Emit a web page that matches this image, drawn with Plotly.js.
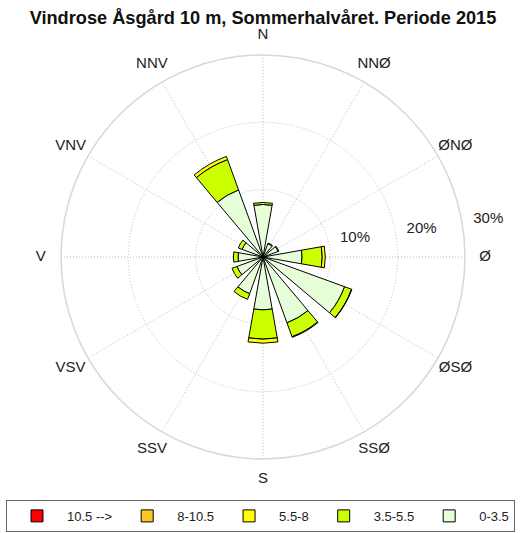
<!DOCTYPE html>
<html>
<head>
<meta charset="utf-8">
<script src="https://cdn.plot.ly/plotly-3.0.1.min.js"></script>
<style>html,body{margin:0;padding:0;background:#fff;}#chart{width:521px;height:533px;}</style>
</head>
<body>
<div id="chart"></div>
<script>
// Directions (compass labels) and their bearings in degrees
const directions = ['N','NNØ','ØNØ','Ø','ØSØ','SSØ','S','SSV','VSV','V','VNV','NNV'];
const bearings   = [0, 30, 60, 90, 120, 150, 180, 210, 240, 270, 300, 330];

// Frequency (%) per wind-speed class (m/s)
const class0_35   = [7.8, 2.1, 2.4, 5.8, 12.9, 10.4, 7.85, 5.8, 4.1, 3.7, 3.3, 10.6];
const class35_55  = [0.3, 0.1, 0.1, 3.0, 1.1, 2.2, 4.35, 0.9, 0.8, 0.7, 0.6, 4.8];
const class55_8   = [0, 0, 0, 0.45, 0.05, 0.1, 0.6, 0, 0, 0, 0, 0.5];
const class8_105  = [0, 0, 0, 0, 0, 0, 0, 0, 0, 0, 0, 0];
const class105    = [0, 0, 0, 0, 0, 0, 0, 0, 0, 0, 0, 0];

const classNames  = ['0-3.5', '3.5-5.5', '5.5-8', '8-10.5', '10.5 -->'];
const classColors = ['#E6FFD8', '#CCFF00', '#FFFF00', '#FFC820', '#FF0000'];
const classValues = [class0_35, class35_55, class55_8, class8_105, class105];

// Radial ticks
const radialTicks = [10, 20, 30];
const radialTickText = ['10%', '20%', '30%'];

const font = 'Liberation Sans, Arial, sans-serif';

const W = 521, H = 533;
const cx = 263, cy = 257, R = 202;      // main polar: centre and radius (px)
const rMax = 30;                        // outer circle value
const R2 = 240;                         // label overlay radius (px), same scale
const rMax2 = rMax * R2 / R;

const traces = classValues.map((vals, i) => ({
  type: 'barpolar',
  r: vals,
  theta: bearings,
  width: 20,
  name: classNames[i],
  marker: { color: classColors[i], line: { color: '#000', width: 1 } },
  hoverinfo: 'skip',
  subplot: 'polar'
}));

// radial tick labels (overlay subplot, same scale)
const labelBearing = 81.8;
const labelShift = 1.55;
traces.push({
  type: 'scatterpolar',
  subplot: 'polar2',
  mode: 'text',
  r: radialTicks.map(v => v + labelShift),
  theta: radialTicks.map(() => labelBearing),
  text: radialTickText,
  textposition: 'top right',
  textfont: { family: font, size: 15, color: '#222' },
  showlegend: false,
  cliponaxis: false,
  hoverinfo: 'skip'
});

// direction labels (overlay subplot, same scale)
const dirLabelR = 33.0;
traces.push({
  type: 'scatterpolar',
  subplot: 'polar2',
  mode: 'text',
  r: bearings.map(() => dirLabelR),
  theta: bearings,
  text: directions,
  textposition: 'middle center',
  textfont: { family: font, size: 15, color: '#222' },
  showlegend: false,
  cliponaxis: false,
  hoverinfo: 'skip'
});

const gridDash = '1px,2px';
const gridColor = '#bdbdbd';

const layout = {
  width: W, height: H,
  margin: { l: 0, r: 0, t: 0, b: 0 },
  paper_bgcolor: '#fff',
  font: { family: font, color: '#222' },
  title: {
    text: '<b>Vindrose Åsgård 10 m, Sommerhalvåret. Periode 2015</b>',
    x: 263 / W, xanchor: 'center',
    y: 1 - 18 / H, yanchor: 'middle',
    font: { family: font, size: 18.2, color: '#111' }
  },
  polar: {
    domain: { x: [(cx - R) / W, (cx + R) / W], y: [1 - (cy + R) / H, 1 - (cy - R) / H] },
    bgcolor: '#fff',
    barmode: 'stack',
    radialaxis: {
      range: [0, rMax],
      tickvals: [10, 20],
      showticklabels: false,
      ticks: '',
      showline: false,
      gridcolor: gridColor,
      griddash: gridDash,
      gridwidth: 1
    },
    angularaxis: {
      direction: 'clockwise',
      rotation: 90,
      tickmode: 'array',
      tickvals: bearings,
      showticklabels: false,
      ticks: '',
      showline: true,
      linecolor: '#d8d8d8',
      linewidth: 1.5,
      gridcolor: gridColor,
      griddash: gridDash,
      gridwidth: 1
    }
  },
  polar2: {
    domain: { x: [(cx - R2) / W, (cx + R2) / W], y: [1 - (cy + R2) / H, 1 - (cy - R2) / H] },
    bgcolor: 'rgba(0,0,0,0)',
    radialaxis: { range: [0, rMax2], visible: false, showgrid: false },
    angularaxis: { direction: 'clockwise', rotation: 90, visible: false, showgrid: false }
  },
  showlegend: true,
  legend: {
    orientation: 'h',
    traceorder: 'reversed',
    x: 0.5, xanchor: 'center',
    y: 0.002, yanchor: 'bottom',
    bordercolor: '#666',
    borderwidth: 1,
    bgcolor: '#fff',
    itemwidth: 50,
    font: { family: font, size: 13, color: '#222' }
  }
};

Plotly.newPlot('chart', traces, layout, { staticPlot: true, displayModeBar: false });
</script>
</body>
</html>
